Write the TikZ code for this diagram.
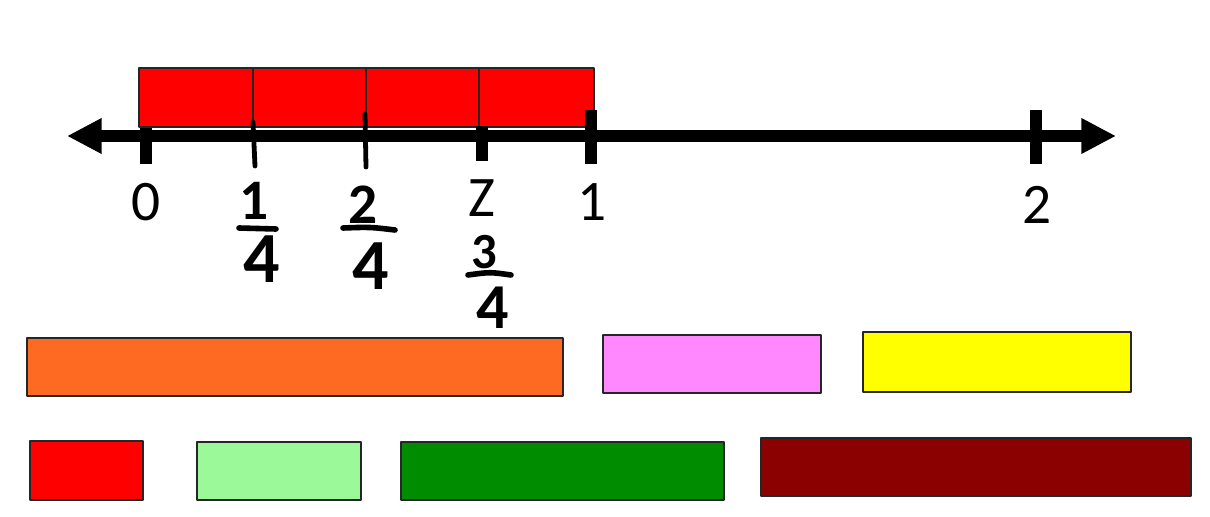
\documentclass[tikz,border=0pt]{standalone}
\usepackage{fontspec}
\setmainfont{Carlito}
\usetikzlibrary{arrows.meta}
\definecolor{rodred}{RGB}{255,0,0}
\definecolor{rodorange}{RGB}{255,106,34}
\definecolor{rodpink}{RGB}{255,136,255}
\definecolor{rodyellow}{RGB}{255,255,0}
\definecolor{rodlight}{RGB}{156,249,154}
\definecolor{rodgreen}{RGB}{0,140,0}
\definecolor{roddark}{RGB}{139,0,0}
\begin{document}
\begin{tikzpicture}[x=0.75pt,y=-0.75pt,line join=round,
    rod/.style={draw=black!85,line width=1.1pt},
    bigtick/.style={line width=9pt},
    handtick/.style={line width=3.6pt,line cap=round},
    fracbar/.style={line width=4.2pt,line cap=round},
    numlab/.style={font=\fontsize{43}{47}\selectfont,inner sep=0pt},
    numtop/.style={font=\fontsize{43}{47}\selectfont\bfseries,inner sep=0pt},
    numbot/.style={font=\fontsize{54}{58}\selectfont\bfseries,inner sep=0pt}]
    \useasboundingbox (0,0) rectangle (1210,517);
    % fourths above the line
    \draw[rod,fill=rodred] (139,68) rectangle (253,127);
    \draw[rod,fill=rodred] (253,68) rectangle (366,127);
    \draw[rod,fill=rodred] (366,68) rectangle (479,127);
    \draw[rod,fill=rodred] (479,68) rectangle (594,127);
    % number line
    \draw[line width=9pt,{Triangle[length=26pt,width=25pt]}-{Triangle[length=26pt,width=25pt]}] (67,136) -- (1116,136);
    \draw[bigtick] (146,128) -- (146,164)
                   (482,126) -- (482,161)
                   (591,110) -- (591,164)
                   (1036,110) -- (1036,164);
    \draw[handtick] (253,122) -- (255,166);
    \draw[handtick] (365,114) -- (366,167);
    \node[numlab] (zero) at (146,202) {0};
    \node[numlab] (zed) at (482,198) {Z};
    \node[numlab] (one) at (592,202) {1};
    \node[numlab] (two) at (1037,205) {2};
    % hand written fourths
    \node[numtop] (n1) at (254,201) {1};
    \draw[fracbar] (239,228) -- (276,229);
    \node[numbot] (d1) at (262,259) {4};
    \node[numtop] (n2) at (363,205) {2};
    \draw[fracbar] (343,228) .. controls (370,227) .. (395,230);
    \node[numbot] (d2) at (371,266) {4};
    \node[numtop,font=\fontsize{38}{42}\selectfont\bfseries] (n3) at (484,252) {3};
    \draw[fracbar] (468,275) .. controls (490,272) .. (511,275);
    \node[numbot,font=\fontsize{48}{52}\selectfont\bfseries] (d3) at (493,308) {4};
    % rods
    \draw[rod,fill=rodorange] (27,338) rectangle (563,396);
    \draw[rod,fill=rodpink] (603,335) rectangle (821,393);
    \draw[rod,fill=rodyellow] (863,332) rectangle (1131,392);
    \draw[rod,fill=rodred] (30,441) rectangle (143,500);
    \draw[rod,fill=rodlight] (197,442) rectangle (361,500);
    \draw[rod,fill=rodgreen] (401,442) rectangle (724,500);
    \draw[rod,fill=roddark] (761,438) rectangle (1191,496);
\end{tikzpicture}
\end{document}
